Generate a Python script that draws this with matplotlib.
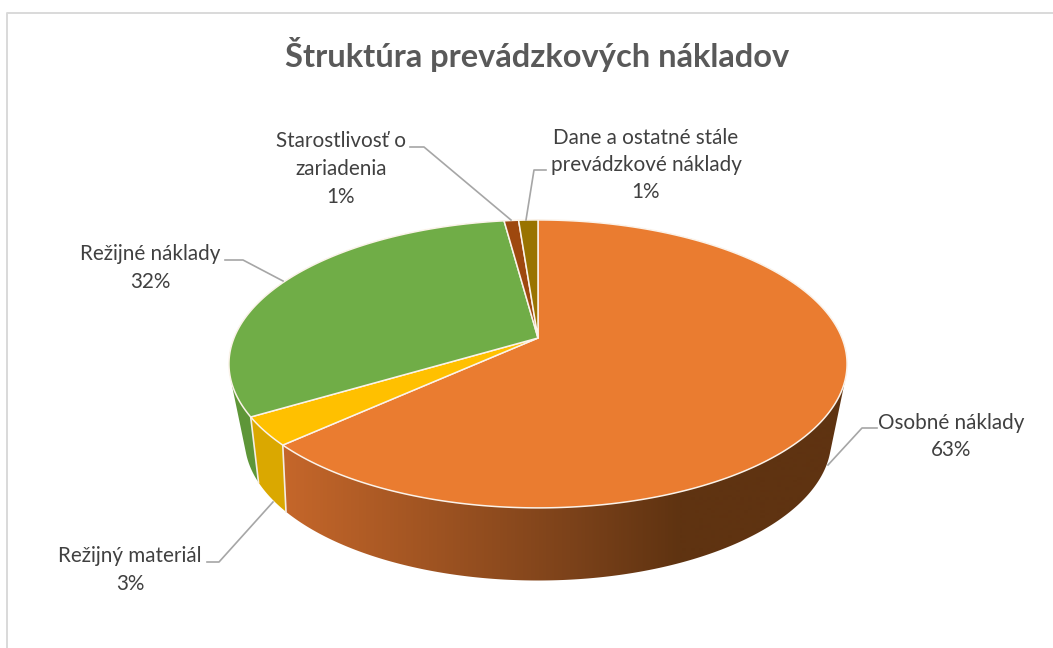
import numpy as np
import matplotlib
matplotlib.use("Agg")
import matplotlib.pyplot as plt
from matplotlib.colors import to_rgb
from matplotlib.patches import Polygon

title = "Štruktúra prevádzkových nákladov"
categories = ["Osobné náklady", "Režijný materiál", "Režijné náklady",
              "Starostlivosť o zariadenia", "Dane a ostatné stále prevádzkové náklady"]
values = [63.2, 3.2, 31.5, 0.9, 1.2]
top_colors = ["#EA7C30", "#FFC000", "#70AD47", "#9E480E", "#997300"]
side_colors = ["#5F3311", "#DAA800", "#5E9638", "#7E3A0B", "#7A5C00"]

plt.rcParams['font.family'] = ['Lato', 'Open Sans', 'DejaVu Sans']
fig = plt.figure(figsize=(10.53, 6.48), dpi=100)
ax = fig.add_axes([0, 0, 1, 1])
ax.set_xlim(0, 1053)
ax.set_ylim(648, 0)
ax.axis('off')

# perspective projection of the pie's top and bottom discs
CX, CY = 538, 338
def top_pt(theta):
    X, Y = np.sin(theta), np.cos(theta)
    w = 1 + 0.18 * Y
    return CX + 304 * X / w, CY - 139.3 * Y / w
def bot_pt(theta):
    X, Y = np.sin(theta), np.cos(theta)
    w = 1 + 0.25 * Y
    return CX + 284 * X / w, 404.5 - 132 * Y / w

def hull(points):
    pts = sorted(set(points))
    def half(seq):
        out = []
        for p in seq:
            while len(out) > 1 and ((out[-1][0]-out[-2][0])*(p[1]-out[-2][1])
                                    - (out[-1][1]-out[-2][1])*(p[0]-out[-2][0])) <= 0:
                out.pop()
            out.append(p)
        return out[:-1]
    return half(pts) + half(pts[::-1])

fracs = np.array(values) / sum(values)
edges = np.concatenate([[0], np.cumsum(fracs)]) * 2 * np.pi

# side wall: painted from the back slices to the front slice
walls = []
for i in range(len(values)):
    th = np.linspace(edges[i], edges[i+1], max(3, int((edges[i+1] - edges[i]) / 0.006)))
    tx, ty = top_pt(th)
    bx, by = bot_pt(th)
    walls.append(hull(list(zip(tx, ty)) + list(zip(bx, by))))

for i in [4, 3, 2, 1]:
    ax.add_patch(Polygon(walls[i], closed=True, facecolor=side_colors[i], edgecolor='none', zorder=2))

# orange wall: horizontal shading
gx = np.linspace(0, 1053, 1054)
stops_x = [288, 570, 680, 850]
stops_c = np.array([to_rgb(c) for c in ["#C4662A", "#7C421A", "#5F3311", "#5F3311"]])
grad = np.stack([np.interp(gx, stops_x, stops_c[:, k]) for k in range(3)], axis=-1)[None, :, :]
img = ax.imshow(grad, extent=(0, 1053, 648, 0), aspect='auto', interpolation='bilinear', zorder=2.1)
clip = Polygon(walls[0], closed=True, transform=ax.transData, facecolor='none', edgecolor='none')
ax.add_patch(clip)
img.set_clip_path(clip)
ax.set_xlim(0, 1053)
ax.set_ylim(648, 0)

# white seams on the side wall
for e in edges[1:3]:
    p, q = top_pt(e), bot_pt(e)
    ax.plot([p[0], q[0]], [p[1], q[1]], color="#F4EDE4", lw=1.2, zorder=3)

# top face
for i in range(len(values)):
    th = np.linspace(edges[i], edges[i+1], max(3, int((edges[i+1] - edges[i]) / 0.01)))
    x, y = top_pt(th)
    ax.fill(np.r_[CX, x], np.r_[CY, y], facecolor=top_colors[i],
            edgecolor="#FBF3EA", lw=1.1, zorder=4, joinstyle='round')

# frame of the chart area (left and top only are inside the crop)
ax.plot([6.5, 6.5, 1053], [648, 12.5, 12.5], color="#D9D9D9", lw=1.4, zorder=1)

# title
ax.text(537, 55, title, ha='center', va='center', fontsize=23.5, fontweight='bold', color="#595959")

# labels
pct = [f"{round(v)}%" for v in values]
label_lines = [
    [("Osobné náklady", 951, 423), (pct[0], 951, 450)],
    [("Režijný materiál", 130, 556), (pct[1], 130, 584)],
    [("Režijné náklady", 150, 254), (pct[2], 150, 282)],
    [("Starostlivosť o", 341, 141), ("zariadenia", 341, 169), (pct[3], 341, 197)],
    [("Dane a ostatné stále", 646, 138), ("prevádzkové náklady", 646, 165), (pct[4], 646, 192)],
]
for lines in label_lines:
    for s, x, y in lines:
        ax.text(x, y, s, ha='center', va='center', fontsize=14.85, color="#404040", zorder=6)

leaders = [
    [(877, 428), (862, 428), (828, 465)],
    [(207, 562), (219, 562), (273, 502)],
    [(225, 260), (243, 260), (283, 281)],
    [(410, 147), (424, 147), (511, 220)],
    [(546, 170), (534, 170), (526, 220)],
]
for pts in leaders:
    xs, ys = zip(*pts)
    ax.plot(xs, ys, color="#A6A6A6", lw=1.2, zorder=5)

fig.savefig("out.png", dpi=100, facecolor="white")
